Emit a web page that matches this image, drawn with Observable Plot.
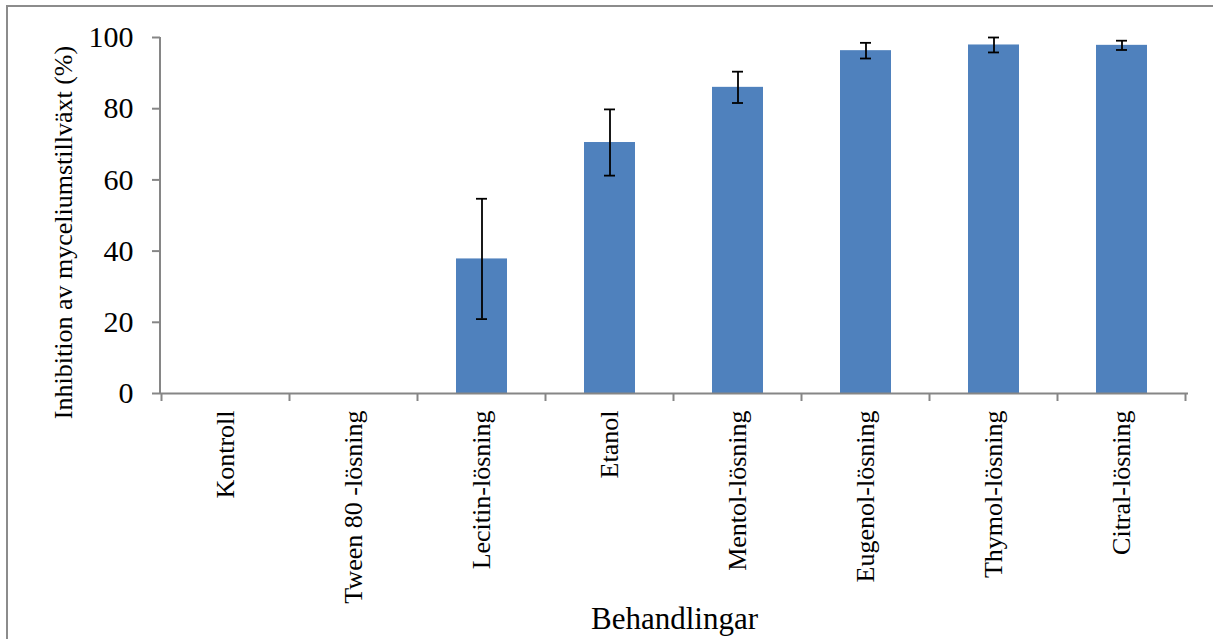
<!DOCTYPE html>
<html>
<head>
<meta charset="utf-8">
<script src="https://cdn.jsdelivr.net/npm/d3@7"></script>
<script src="https://cdn.jsdelivr.net/npm/@observablehq/plot@0.6"></script>
<style>
  html, body { margin: 0; padding: 0; background: #fff; overflow: hidden; }
  #chart { position: relative; width: 1213px; height: 639px; }
  #chart svg { display: block; }
  #chart .edge {
    position: absolute; left: 6px; top: 5px; right: -20px; bottom: -20px;
    border-left: 2px solid #8c8c8c; border-top: 2px solid #8c8c8c;
    pointer-events: none;
  }
</style>
</head>
<body>
<div id="chart"><div class="edge"></div></div>
<script>
// Treatments and mean mycelial growth inhibition (%) with error (±)
const treatments = ["Kontroll", "Tween 80 -lösning", "Lecitin-lösning", "Etanol",
                    "Mentol-lösning", "Eugenol-lösning", "Thymol-lösning", "Citral-lösning"];
const inhibition = [0, 0, 37.8, 70.5, 86.0, 96.3, 97.9, 97.8];
const errors     = [0, 0, 16.9, 9.3, 4.4, 2.2, 2.1, 1.3];
const yTicks = [0, 20, 40, 60, 80, 100];
const xTitle = "Behandlingar";
const yTitle = "Inhibition av myceliumstillväxt (%)";

const rows = treatments.map((t, i) => ({treatment: t, value: inhibition[i], err: errors[i]}));
const withErr = rows.filter(d => d.err > 0);

const axisGray = "#868686";
const barBlue = "#4F81BD";

// Left axis line plus category-boundary ticks along the bottom axis
function axisFrame(index, scales, values, dims) {
  const {x, y} = scales;
  const g = d3.create("svg:g")
    .attr("stroke", axisGray)
    .attr("stroke-width", 2)
    .attr("fill", "none");
  const left = dims.marginLeft;
  g.append("line")
    .attr("x1", left).attr("x2", left)
    .attr("y1", y(0)).attr("y2", y(100));
  const half = x.step() / 2;
  const centers = treatments.map(t => x(t) + x.bandwidth() / 2);
  const edges = [centers[0] - half, ...centers.map(c => c + half)];
  for (const e of edges) {
    g.append("line")
      .attr("x1", e).attr("x2", e)
      .attr("y1", y(0)).attr("y2", y(0) + 8);
  }
  return g.node();
}

const chart = Plot.plot({
  width: 1213,
  height: 639,
  marginLeft: 160,
  marginRight: 25,
  marginTop: 37,
  marginBottom: 246,
  style: {
    fontFamily: "'Liberation Serif', 'Times New Roman', serif",
    background: "transparent",
    color: "black",
    overflow: "visible"
  },
  x: {type: "band", domain: treatments, paddingInner: 0.6, paddingOuter: 0.3, axis: null},
  y: {domain: [0, 100], axis: null},
  marks: [
    Plot.barY(rows, {x: "treatment", y: "value", fill: barBlue}),
    Plot.ruleX(withErr, {x: "treatment", y1: d => d.value - d.err, y2: d => d.value + d.err,
                         stroke: "black", strokeWidth: 1.8}),
    Plot.tickY(withErr, {x: "treatment", y: d => d.value - d.err, stroke: "black", strokeWidth: 1.8, inset: 20}),
    Plot.tickY(withErr, {x: "treatment", y: d => d.value + d.err, stroke: "black", strokeWidth: 1.8, inset: 20}),
    Plot.ruleY([0], {stroke: axisGray, strokeWidth: 2}),
    axisFrame,
    Plot.axisY({ticks: yTicks, tickSize: 8, tickPadding: 19, stroke: axisGray, strokeWidth: 2,
                fill: "black", fontSize: 30, label: null}),
    Plot.axisX({tickSize: 0, tickPadding: 17, tickRotate: -90, fontSize: 26, fill: "black", label: null}),
    Plot.text([xTitle], {text: d => d, frameAnchor: "bottom", dy: 235, fontSize: 31, fill: "black"}),
    Plot.text([yTitle], {text: d => d, frameAnchor: "left", textAnchor: "middle", rotate: -90,
                         dx: -97, dy: 17, fontSize: 26, fill: "black"})
  ]
});

document.getElementById("chart").prepend(chart);
</script>
</body>
</html>
